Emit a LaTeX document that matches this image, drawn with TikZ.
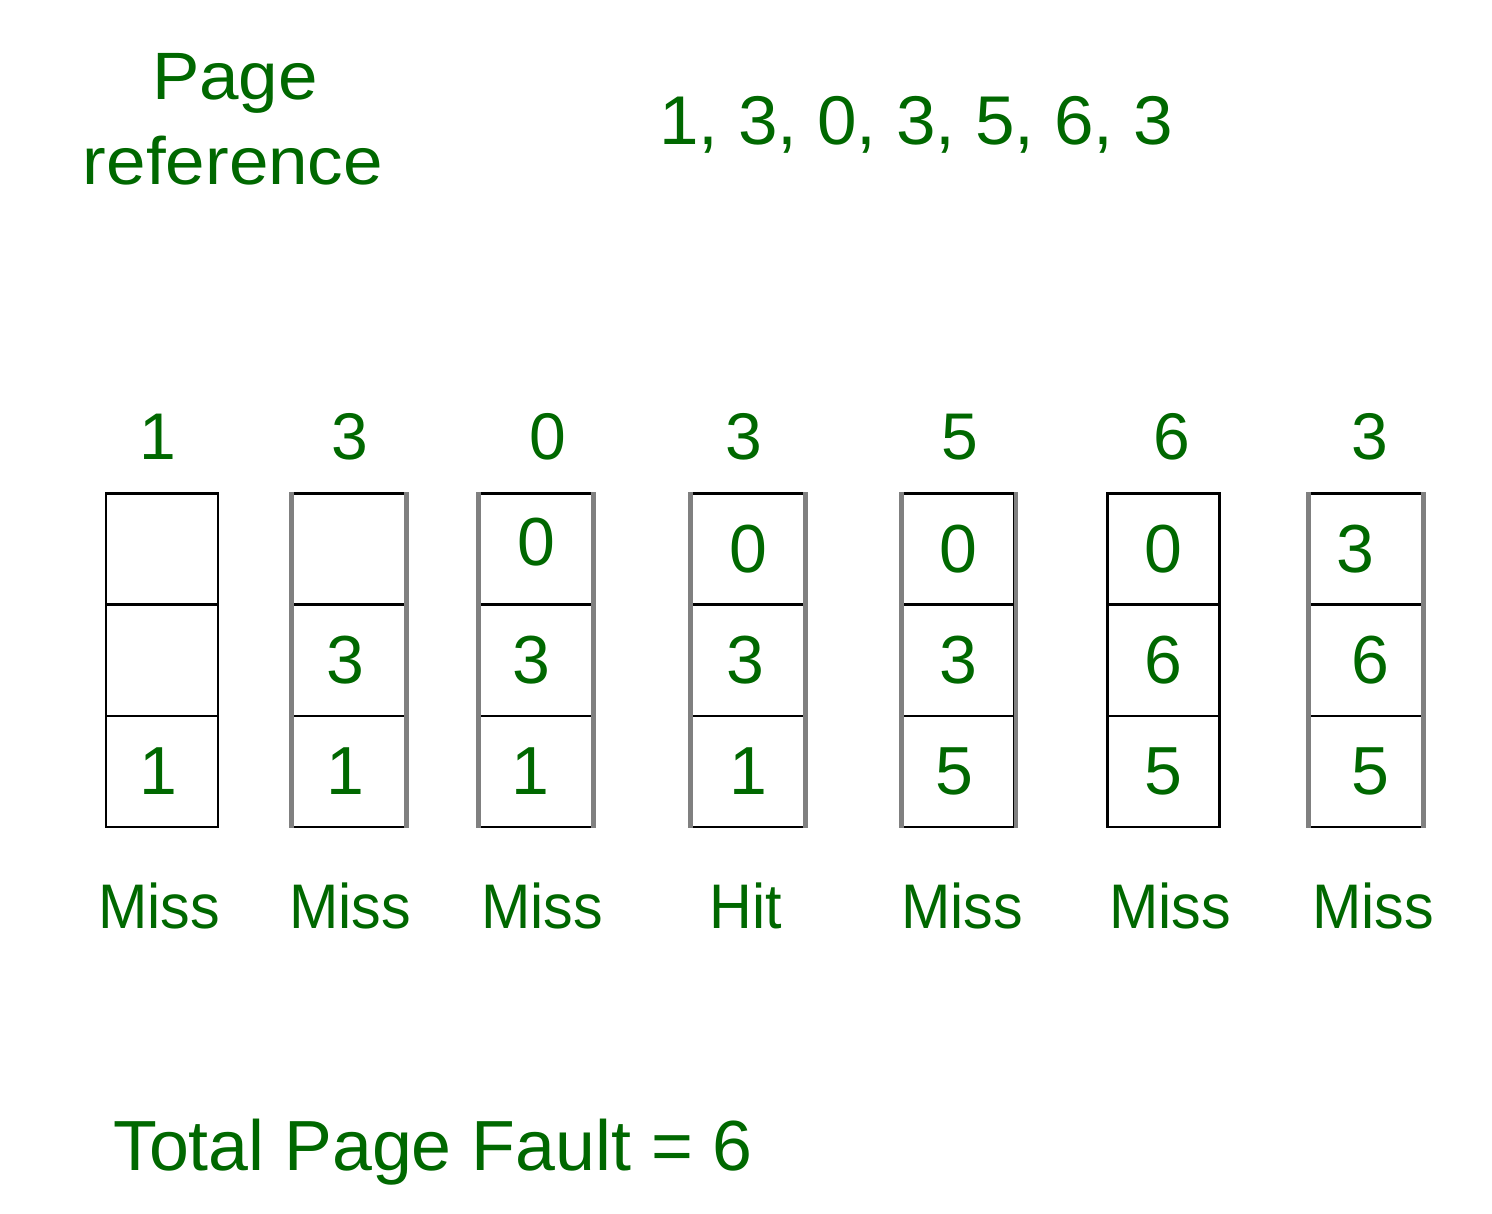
\documentclass[tikz,border=0pt]{standalone}
\usepackage{fontspec}
\setmainfont{Liberation Sans}
\definecolor{txtgreen}{RGB}{0,104,0}
\definecolor{sidegray}{RGB}{128,128,128}
\newcommand{\mssx}[1]{\scalebox{0.94}[1]{#1}}
\begin{document}
\begin{tikzpicture}[x=1pt,y=-1pt,
  lbl/.style={text=txtgreen,inner sep=0pt,anchor=base,font=\fontsize{66}{78}\selectfont},
  res/.style={lbl,font=\fontsize{63}{75}\selectfont},
  cell/.style={draw=black,line width=2.6pt,minimum width=112pt,minimum height=111.3pt,inner sep=0pt,
    text=txtgreen,font=\fontsize{68}{80}\selectfont},
  grayside/.style={draw=sidegray,line width=4.6pt}]
\useasboundingbox[fill=white] (0,0) rectangle (1492,1214);
% title texts
\node[lbl,font=\fontsize{67}{79}\selectfont] (page) at (235,100) {\scalebox{1.06}[1]{Page}};
\node[lbl,font=\fontsize{67}{79}\selectfont] (reference) at (233,185) {\scalebox{1.06}[1]{reference}};
\node[lbl,font=\fontsize{69}{81}\selectfont] (seq) at (916,145) {\scalebox{1.03}[1]{1, 3, 0, 3, 5, 6, 3}};
% top labels
\node[lbl] (t1) at (158,460) {1};
\node[lbl] (t2) at (350,460) {3};
\node[lbl] (t3) at (548,460) {0};
\node[lbl] (t4) at (744,460) {3};
\node[lbl] (t5) at (960,460) {5};
\node[lbl] (t6) at (1172,460) {6};
\node[lbl] (t7) at (1370,460) {3};
% column 1
\node[cell] (c1a) at (162,549) {};
\node[cell] (c1b) at (162,660.5) {};
\node[cell] (c1c) at (162,771.5) {\hspace*{-8pt}1};
% column 2
\node[cell] (c2a) at (349,549) {};
\node[cell] (c2b) at (349,660.5) {\hspace*{-8pt}3};
\node[cell] (c2c) at (349,771.5) {\hspace*{-8pt}1};
% column 3
\node[cell] (c3a) at (536,549) {\raisebox{14pt}{0}};
\node[cell] (c3b) at (536,660.5) {\hspace*{-10pt}3};
\node[cell] (c3c) at (536,771.5) {\hspace*{-12pt}1};
% column 4
\node[cell] (c4a) at (748,549) {0};
\node[cell] (c4b) at (748,660.5) {\hspace*{-6pt}3};
\node[cell] (c4c) at (748,771.5) {1};
% column 5
\node[cell] (c5a) at (958.5,549) {0};
\node[cell] (c5b) at (958.5,660.5) {3};
\node[cell] (c5c) at (958.5,771.5) {\hspace*{-8pt}5};
% column 6
\node[cell] (c6a) at (1163.5,549) {0};
\node[cell] (c6b) at (1163.5,660.5) {6};
\node[cell] (c6c) at (1163.5,771.5) {5};
% column 7
\node[cell] (c7a) at (1366,549) {\hspace*{-22pt}3};
\node[cell] (c7b) at (1366,660.5) {\hspace*{8pt}6};
\node[cell] (c7c) at (1366,771.5) {\hspace*{8pt}5};
% gray sides
\foreach \c in {2,3,4,5,7}{
  \draw[grayside] (c\c a.north west) -- (c\c c.south west);
  \draw[grayside] (c\c a.north east) -- (c\c c.south east);
}
% result labels
\node[res] (r1) at (159,928) {\mssx{Miss}};
\node[res] (r2) at (350,928) {\mssx{Miss}};
\node[res] (r3) at (542,928) {\mssx{Miss}};
\node[res] (r4) at (746,928) {\mssx{Hit}};
\node[res] (r5) at (962,928) {\mssx{Miss}};
\node[res] (r6) at (1170,928) {\mssx{Miss}};
\node[res] (r7) at (1373,928) {\mssx{Miss}};
% total
\node[lbl,font=\fontsize{71}{83}\selectfont] (total) at (433,1170) {\scalebox{1.01}[1]{Total Page Fault = 6}};
\end{tikzpicture}
\end{document}
